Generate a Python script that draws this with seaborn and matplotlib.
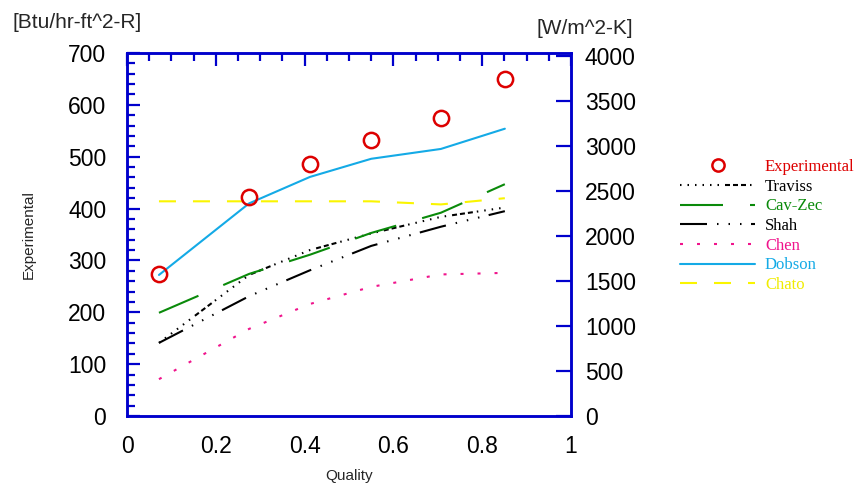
import matplotlib
matplotlib.use("Agg")
import numpy as np
import pandas as pd
import seaborn as sns
from matplotlib import pyplot as plt
from matplotlib.ticker import MultipleLocator

# values (left axis units, Btu/hr-ft^2-R)
quality = [0.072, 0.275, 0.412, 0.550, 0.707, 0.851]
experimental = [273, 422, 486, 532, 574, 649]
traviss = [141, 272, 320, 352, 384, 402]
cav_zec = [199, 274, 311, 353, 392, 447]
shah = [141, 231, 281, 328, 365, 395]
chen = [71, 168, 216, 249, 273, 276]
dobson = [272, 410, 461, 496, 515, 554]
chato = [414, 414, 414, 414, 408, 420]

x_ticks = [0, 0.2, 0.4, 0.6, 0.8, 1]
x_tick_labels = ["0", "0.2", "0.4", "0.6", "0.8", "1"]
left_ticks = [0, 100, 200, 300, 400, 500, 600, 700]
right_ticks = [0, 500, 1000, 1500, 2000, 2500, 3000, 3500, 4000]

AXIS_BLUE = "#0000CC"
PX = 0.72  # px -> pt at 100 dpi


def px_dash(seq):
    return (0, tuple(v * PX for v in seq))


sns.set_style("white")
plt.rcParams["font.family"] = ["Liberation Sans", "DejaVu Sans"]
plt.rcParams["lines.scale_dashes"] = False

fig = plt.figure(figsize=(8.59, 4.87), dpi=100)
ax = fig.add_axes([127 / 859, 1 - 416 / 487, 444 / 859, 363 / 487])

series = [
    ("Traviss", traviss, "black", px_dash([1.5, 6] * 6 + [5, 3, 5, 3, 5, 4])),
    ("Cav-Zec", cav_zec, "#0A8A0A", px_dash([43, 27])),
    ("Shah", shah, "black", px_dash([27, 10, 1.5, 10, 1.5, 10, 1.5, 9.5])),
    ("Chen", chen, "#F0148C", px_dash([3, 14])),
    ("Dobson", dobson, "#14AAE6", "-"),
    ("Chato", chato, "#FAF500", px_dash([17, 17])),
]
for name, vals, col, ls in series:
    df = pd.DataFrame({"quality": quality, "h": vals})
    sns.lineplot(data=df, x="quality", y="h", ax=ax, color=col,
                 linestyle=ls, linewidth=1.5, label=name)

df_exp = pd.DataFrame({"quality": quality, "h": experimental})
sns.lineplot(data=df_exp, x="quality", y="h", ax=ax, color="#DD0000",
             linestyle="", marker="o", markersize=11,
             markerfacecolor="none", markeredgecolor="#DD0000",
             markeredgewidth=1.8, label="Experimental")

ax.set_xlim(0, 1)
ax.set_ylim(0, 700)
ax.set_xticks(x_ticks)
ax.set_xticklabels(x_tick_labels)
ax.set_yticks(left_ticks)
ax.xaxis.set_minor_locator(MultipleLocator(0.05))
ax.yaxis.set_minor_locator(MultipleLocator(20))
ax.tick_params(axis="both", which="both", direction="in", colors=AXIS_BLUE,
               labelcolor="black", width=1.6, top=True, right=False)
ax.tick_params(axis="both", which="major", length=9.5, labelsize=16.5)
ax.tick_params(axis="both", which="minor", length=5.8)
ax.tick_params(axis="y", pad=15)
ax.tick_params(axis="x", pad=14)

ax2 = ax.twinx()
ax2.set_ylim(0, 4035)
ax2.set_yticks(right_ticks)
ax2.tick_params(axis="y", which="major", direction="in", colors=AXIS_BLUE,
                labelcolor="black", width=1.6, length=10.8, labelsize=16.5,
                pad=10, left=False, right=True)

for a in (ax, ax2):
    for sp in a.spines.values():
        sp.set_color(AXIS_BLUE)
        sp.set_linewidth(1.8)
        sp.set_visible(True)

ax.set_xlabel("Quality", fontsize=11)
ax.set_ylabel("Experimental", fontsize=11)
ax.xaxis.set_label_coords(0.5, -0.145)
ax.yaxis.set_label_coords(-0.205, 0.5)

fig.text(12 / 859, 1 - 23 / 487, "[Btu/hr-ft^2-R]", fontsize=15,
         ha="left", va="center")
fig.text(585 / 859, 1 - 28 / 487, "[W/m^2-K]", fontsize=15,
         ha="center", va="center")

handles, labels = ax.get_legend_handles_labels()
ax.get_legend().remove()
order = ["Experimental", "Traviss", "Cav-Zec", "Shah", "Chen", "Dobson", "Chato"]
text_colors = ["#DD0000", "black", "#0A8A0A", "black", "#F0148C", "#14AAE6", "#F0EC00"]
lookup = dict(zip(labels, handles))
leg = fig.legend([lookup[n] for n in order], order, loc="upper left",
                 bbox_to_anchor=(680 / 859, 1 - 159 / 487), frameon=False,
                 prop={"family": ["Liberation Serif", "DejaVu Serif"], "size": 12},
                 handlelength=4.5, handletextpad=0.6, labelspacing=0.22,
                 borderpad=0, borderaxespad=0, markerscale=0.8)
for txt, c in zip(leg.get_texts(), text_colors):
    txt.set_color(c)

fig.savefig("out.png", dpi=100)
